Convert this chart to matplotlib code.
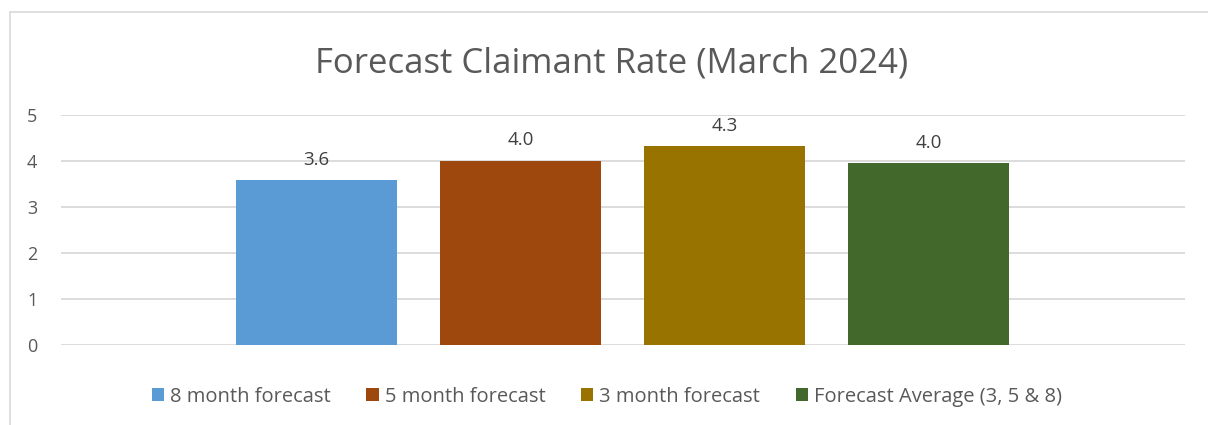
import matplotlib
matplotlib.use("Agg")
import matplotlib.pyplot as plt
from matplotlib.patches import Rectangle, Patch

plt.rcParams['font.family'] = ['Open Sans', 'DejaVu Sans']

# data
series = ['8 month forecast', '5 month forecast', '3 month forecast', 'Forecast Average (3, 5 & 8)']
values = [3.59, 4.01, 4.33, 3.96]
labels = ['3.6', '4.0', '4.3', '4.0']
colors = ['#5B9BD5', '#9E480E', '#997300', '#43682B']
yticks = [0, 1, 2, 3, 4, 5]

W, H = 1208, 425
fig = plt.figure(figsize=(W / 100, H / 100), dpi=100)
ax = fig.add_axes([61 / W, 1 - 345 / H, 1124 / W, 230 / H])

# light outer frame like the excel chart area
fig.patches.append(Rectangle((10 / W, -0.1), 1.2, 1 - 12 / H + 0.1,
                             transform=fig.transFigure, fill=False,
                             edgecolor='#D9D9D9', lw=1.2))

x = list(range(len(series)))
bars = ax.bar(x, values, width=161 / 204, color=colors, zorder=3)
for b, lab in zip(bars, labels):
    ax.annotate(lab, (b.get_x() + b.get_width() / 2, b.get_height()),
                xytext=(0, 8), textcoords='offset points',
                ha='center', va='bottom', fontsize=13.5, color='#404040')

ax.set_xlim(-1.252, 4.257)
ax.set_ylim(0, 5)
ax.set_yticks(yticks)
ax.set_xticks([])
ax.grid(axis='y', color='#D9D9D9', lw=1.3, zorder=0)
for s in ax.spines.values():
    s.set_visible(False)
ax.tick_params(axis='y', length=0, pad=17, labelsize=13, labelcolor='#595959')

fig.text(612 / W, 1 - 73 / H, 'Forecast Claimant Rate (March 2024)',
         ha='center', va='baseline', fontsize=25, color='#595959')

handles = [Patch(facecolor=c, edgecolor='none') for c in colors]
fig.legend(handles, series, loc='center', bbox_to_anchor=(607 / W, 1 - 397 / H),
           ncol=4, frameon=False, fontsize=14.5, labelcolor='#595959',
           handlelength=0.62, handleheight=0.62, handletextpad=0.3,
           columnspacing=1.75)

fig.savefig('out.png', dpi=100)
